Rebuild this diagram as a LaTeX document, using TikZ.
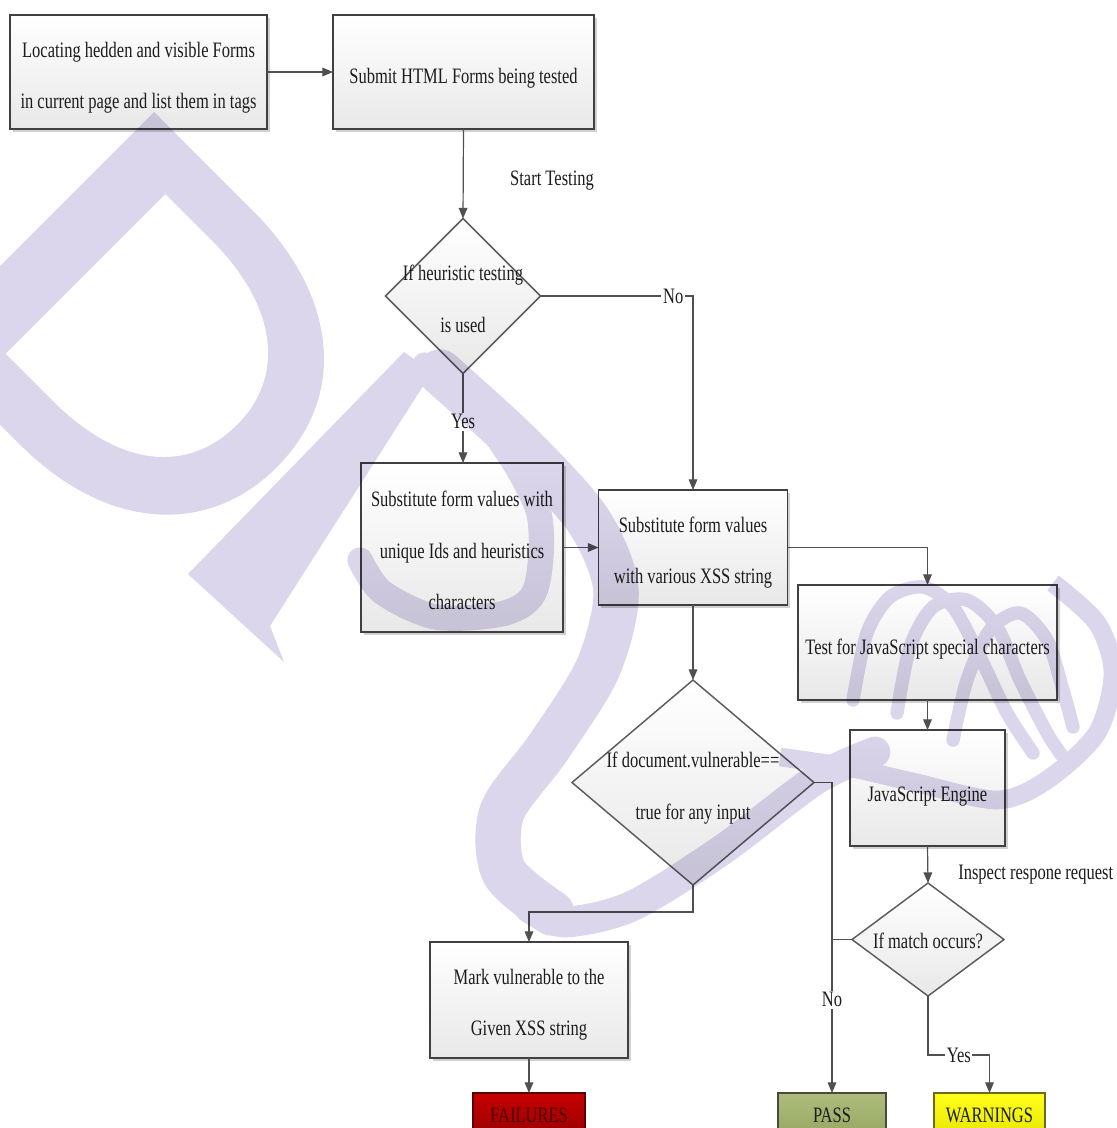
\documentclass[tikz,border=0pt]{standalone}
\usepackage{fontspec}
\setmainfont{Liberation Serif}[FakeStretch=0.75]
\usetikzlibrary{arrows.meta,shapes.geometric,shadows}

\definecolor{boxline}{HTML}{404040}
\definecolor{conline}{HTML}{505050}
\definecolor{dline}{HTML}{5C5C5C}
\definecolor{inkc}{HTML}{1C1C1C}
\definecolor{wm}{RGB}{219,214,236}
\definecolor{failtop}{HTML}{C80000}
\definecolor{failbot}{HTML}{960000}
\definecolor{failline}{HTML}{5A0000}
\definecolor{failtext}{HTML}{4A0000}
\definecolor{passtop}{HTML}{AEBC7C}
\definecolor{passbot}{HTML}{97A862}
\definecolor{passline}{HTML}{4A4A3A}
\definecolor{warntop}{HTML}{FFFF1A}
\definecolor{warnbot}{HTML}{E6E600}
\definecolor{warnline}{HTML}{6A6A20}

\newcommand\flowfont{\fontsize{16.5}{38.5}\selectfont}

\begin{document}
\begin{tikzpicture}[x=0.75pt,y=-0.75pt,
  proc/.style={rectangle, draw=boxline, line width=1.2pt,
    top color=white, bottom color=black!9,
    drop shadow={shadow xshift=2.2pt, shadow yshift=-2.2pt, fill=black, opacity=0.18},
    inner sep=0pt, outer sep=0pt},
  decide/.style={diamond, draw=dline, line width=1.1pt,
    top color=white, bottom color=black!9, inner sep=0pt, outer sep=0pt},
  dtext/.style={align=center, font=\flowfont, text=inkc, inner sep=0pt},
  term/.style={rectangle, draw=#1, line width=1pt, inner sep=0pt, outer sep=0pt,
    minimum height=33pt, font=\flowfont},
  conn/.style={draw=conline, line width=0.9pt},
  arr/.style={conn, -{Triangle[length=8pt,width=6.5pt]}},
  lbl/.style={fill=white, font=\flowfont, text=inkc, inner sep=1.2pt},
]
\useasboundingbox (0,0) rectangle (1117,1128);
\clip (0,0) rectangle (1117,1128);
\fill[white] (0,0) rectangle (1117,1128);

% ---- process boxes ----
\node[proc, minimum width=192.75pt, minimum height=85.5pt] (locate) at (138.5,72) {};
\node[dtext] (locatetxt) at (138.5,77.5)
  {Locating hedden and visible Forms\\in current page and list them in tags};
\node[proc, minimum width=195.75pt, minimum height=85.5pt] (submit) at (463.5,72) {};
\node[dtext] (submittxt) at (463.5,78) {Submit HTML Forms being tested};
\node[proc, minimum width=151.5pt, minimum height=126.75pt] (uniq) at (462,547.5) {};
\node[dtext] (uniqtxt) at (462,550.5)
  {Substitute form values with\\unique Ids and heuristics\\characters};
\node[proc, minimum width=141.75pt, minimum height=86.25pt] (xss) at (693,547.5) {};
\node[dtext] (xsstxt) at (693,552.5) {Substitute form values\\with various XSS string};
\node[proc, minimum width=194.25pt, minimum height=86.25pt] (jschar) at (927.5,642.5) {};
\node[dtext] (jschartxt) at (927.5,649.5) {Test for JavaScript special characters};
\node[proc, minimum width=116.25pt, minimum height=87pt] (engine) at (927.5,788) {};
\node[dtext] (enginetxt) at (927.5,797) {JavaScript Engine};
\node[proc, minimum width=148.5pt, minimum height=87pt] (mark) at (529,1000) {};
\node[dtext] (marktxt) at (529,1005) {Mark vulnerable to the\\Given XSS string};

% ---- decisions ----
\node[decide, minimum width=116.25pt, minimum height=116.25pt] (heur) at (463,296) {};
\node[dtext] (heurtxt) at (463,299) {If heuristic testing\\is used};
\node[decide, minimum width=181.5pt, minimum height=153.75pt] (vuln) at (693,782.5) {};
\node[dtext] (vulntxt) at (693,788) {If document.vulnerable==\\true for any input};
\node[decide, minimum width=114pt, minimum height=84.75pt] (match) at (928,939.5) {};
\node[dtext] (matchtxt) at (928,941) {If match occurs?};

% ---- outcomes ----
\node[term=failline, top color=failtop, bottom color=failbot, minimum width=84pt,
  text=failtext] (fail) at (529,1115) {FAILURES};
\node[term=passline, top color=passtop, bottom color=passbot, minimum width=81pt,
  text=inkc] (pass) at (832,1115) {PASS};
\node[term=warnline, top color=warntop, bottom color=warnbot, minimum width=83.25pt,
  text=inkc] (warn) at (989.5,1115) {WARNINGS};

% ---- free labels ----
\node[dtext] (start) at (552,181) {Start Testing};
\node[dtext, anchor=west] (inspect) at (958,875) {Inspect respone request};

% ---- connectors ----
\coordinate (vbend) at (693,912);
\coordinate (ybend) at (928,1055);
\draw[arr] (locate.east) -- (submit.west);
\draw[arr] (submit.south) -- (heur.north);
\draw[arr] (heur.east) -- node[lbl, pos=0.87] {No} (heur.east -| xss.north) -- (xss.north);
\draw[arr] (heur.south) -- node[lbl, pos=0.54] {Yes} (heur.south |- uniq.north);
\draw[arr] (uniq.east) -- (xss.west);
\draw[arr] (xss.east) -| (jschar.north);
\draw[arr] (jschar.south) -- (engine.north);
\draw[arr] (engine.south) -- (match.north);
\draw[arr] (xss.south) -- (vuln.north);
\draw[arr] (vuln.east) -| node[lbl, pos=0.85] {No} (pass.north);
\draw[conn] (match.west) -- (match.west -| pass.north);
\draw[arr] (vuln.south) -- (vbend) -| (mark.north);
\draw[arr] (mark.south) -- (fail.north);
\draw[arr] (match.south) -- (ybend) -- node[lbl] {Yes} (ybend -| warn.north) -- (warn.north);

% ---- logo watermark, multiplied over the chart ----
\begin{scope}[blend mode=multiply]
\begin{scope}[transparency group]
  % rotated D
  \begin{scope}[shift={(48,218)}, rotate=-45]
    \fill[wm, even odd rule]
      (0,-150) -- (0,180) -- (140,180)
        .. controls (265,180) and (338,110) .. (338,15)
        .. controls (338,-90) and (255,-150) .. (140,-150) -- cycle
      (66,-100) -- (66,126) -- (132,126)
        .. controls (230,126) and (280,80) .. (280,12)
        .. controls (280,-55) and (225,-100) .. (132,-100) -- cycle;
  \end{scope}
  % second letter: stem, bowl and long tail
  \fill[wm] (404,352) -- (432,372) -- (270,626) -- (284,662) -- (188,574) -- cycle;
  \draw[wm, line width=19pt, line cap=round]
    plot[smooth] coordinates {(425,365) (489,426) (538,510) (536,588) (505,613) (436,617) (382,592) (360,560)};
  \draw[wm, line width=34pt, line cap=round]
    plot[smooth] coordinates {(440,372) (520,445) (588,520) (616,590) (598,668) (548,748) (502,812) (504,872) (552,913)};
  \draw[wm, line width=23pt, line cap=round]
    plot[smooth] coordinates {(530,908) (565,922) (632,906) (722,850) (815,780) (875,752)};
  % swirl
  \draw[wm, line width=14pt]
    plot[smooth] coordinates {(780,757) (847,767) (913,782) (997,800) (1047,780) (1097,733) (1113,673) (1097,623) (1053,583)};
  \draw[wm, line width=10pt, line cap=round]
    plot[smooth] coordinates {(853,700) (867,633) (890,597) (923,587) (953,607) (980,657) (1007,713) (1033,753)};
  \draw[wm, line width=10pt, line cap=round]
    plot[smooth] coordinates {(897,713) (910,647) (933,607) (967,600) (997,627) (1020,680) (1047,733) (1063,757)};
  \draw[wm, line width=10pt, line cap=round]
    plot[smooth] coordinates {(953,740) (967,680) (990,630) (1020,613) (1047,640) (1063,690) (1073,727)};
\end{scope}
\end{scope}
\end{tikzpicture}
\end{document}
